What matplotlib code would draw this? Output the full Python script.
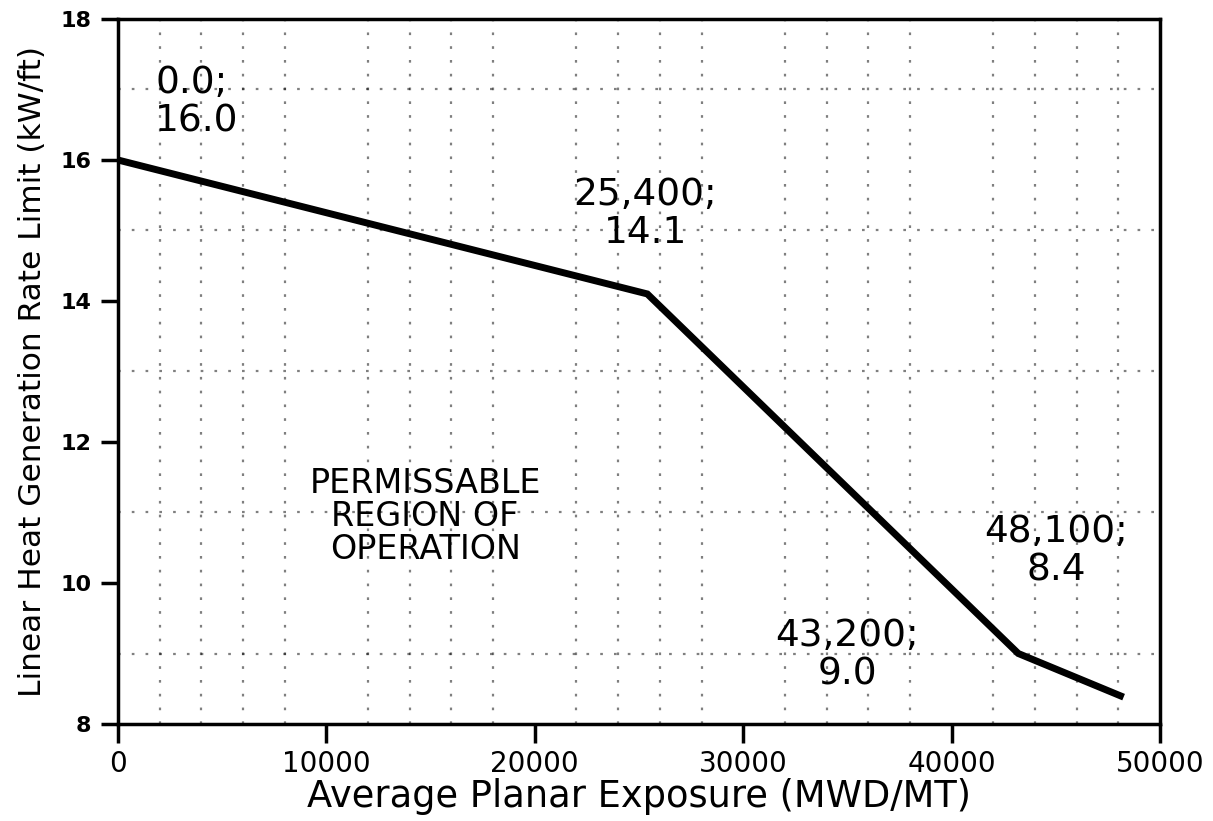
import matplotlib
matplotlib.use("Agg")
import matplotlib.pyplot as plt
import numpy as np

# Data
exposure = [0, 25400, 43200, 48100]
lhgr_limit = [16.0, 14.1, 9.0, 8.4]
point_labels = ["0.0;\n16.0", "25,400;\n14.1", "43,200;\n9.0", "48,100;\n8.4"]
label_pos_x = [1780, 25300, 35000, 45000]
label_pos_y = [16.82, 15.23, 8.98, 10.45]
label_ha = ["left", "center", "center", "center"]
region_text = "PERMISSABLE\nREGION OF\nOPERATION"
x_ticks = [0, 10000, 20000, 30000, 40000, 50000]
y_ticks = [8, 10, 12, 14, 16, 18]

plt.rcParams['font.family'] = ['DejaVu Sans']

fig = plt.figure(figsize=(12.13, 8.21), dpi=100)
ax = fig.add_axes([118/1213, 1 - 724/821, (1160-118)/1213, (724-19)/821])

ax.set_xlim(0, 50000)
ax.set_ylim(8, 18)

# dotted grid
ax.set_xticks(np.arange(0, 50001, 2000), minor=True)
ax.set_yticks(np.arange(8, 18.01, 1), minor=True)
ax.grid(which='minor', color='black', linestyle=(0, (1.2, 5)), linewidth=1.6, alpha=0.5)
ax.tick_params(which='minor', length=0)

ax.plot(exposure, lhgr_limit, color='black', linewidth=5, solid_joinstyle='miter', zorder=5)

for t, x, y, ha in zip(point_labels, label_pos_x, label_pos_y, label_ha):
    ax.text(x, y, t, ha=ha, va='center', fontsize=27, linespacing=1.08, color='black', zorder=6)

ax.text(14740, 10.94, region_text, ha='center', va='center', fontsize=24, linespacing=1.0, zorder=6)

ax.set_xticks(x_ticks)
ax.set_yticks(y_ticks)
ax.set_xticklabels([str(v) for v in x_ticks], fontsize=20)
ax.set_yticklabels([str(v) for v in y_ticks], fontsize=16, fontweight='bold')
ax.tick_params(axis='x', which='major', direction='out', length=14, width=2.5, pad=5)
ax.tick_params(axis='y', which='major', direction='out', length=12, width=2.5, pad=7)

for s in ax.spines.values():
    s.set_linewidth(2.5)

ax.set_xlabel("Average Planar Exposure (MWD/MT)", fontsize=26.5, labelpad=0)
ax.set_ylabel("Linear Heat Generation Rate Limit (kW/ft)", fontsize=22.5, labelpad=10)

fig.savefig("out.png", dpi=100)
